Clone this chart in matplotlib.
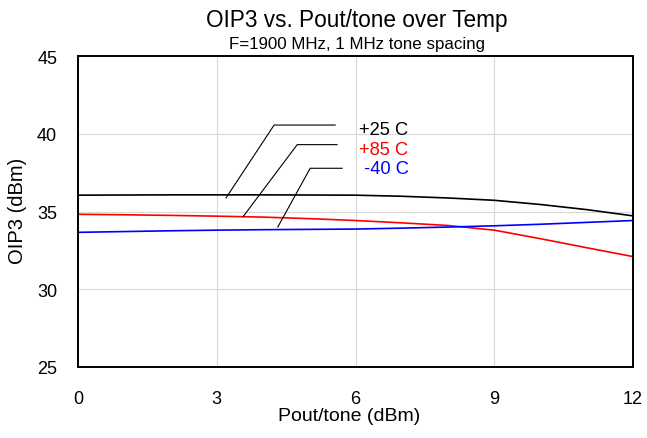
import matplotlib.pyplot as plt

plt.rcParams['font.family'] = ['Liberation Sans', 'DejaVu Sans']

pout = [0, 1, 2, 3, 4, 5, 6, 7, 8, 9, 10, 11, 12]
oip3_25c = [36.05, 36.06, 36.07, 36.07, 36.07, 36.06, 36.05, 35.98, 35.87, 35.72, 35.45, 35.12, 34.72]
oip3_85c = [34.82, 34.79, 34.75, 34.7, 34.64, 34.54, 34.42, 34.27, 34.1, 33.8, 33.25, 32.67, 32.1]
oip3_m40c = [33.66, 33.71, 33.76, 33.8, 33.83, 33.85, 33.87, 33.93, 34.0, 34.08, 34.18, 34.3, 34.42]

labels = ['+25 C', '+85 C', '-40 C']
colors = ['black', '#ff0000', '#0000ff']

xticks = [0, 3, 6, 9, 12]
yticks = [25, 30, 35, 40, 45]

fig = plt.figure(figsize=(6.47, 4.39), dpi=100)
ax = fig.add_axes([78 / 647, 1 - 368 / 439, 555 / 647, 311 / 439])

for y, c in zip([oip3_25c, oip3_85c, oip3_m40c], colors):
    ax.plot(pout, y, color=c, lw=1.2)

ax.set_xlim(0, 12)
ax.set_ylim(25, 45)
ax.set_xticks(xticks)
ax.set_yticks(yticks)
ax.tick_params(length=0, labelsize=13)
ax.tick_params(axis='x', pad=16.5)
ax.tick_params(axis='y', pad=15)
ax.grid(True, color='#d9d9d9', lw=0.8)
for s in ax.spines.values():
    s.set_linewidth(1.4)
    s.set_color('black')

# leader lines to labels
leaders = [
    ((3.20, 35.87), (4.24, 40.56), 5.56),
    ((3.57, 34.67), (4.74, 39.30), 5.60),
    ((4.32, 34.00), (5.02, 37.78), 5.71),
]
for (x0, y0), (x1, y1), x2 in leaders:
    ax.plot([x0, x1, x2], [y0, y1, y1], color='black', lw=0.8)

ax.text(6.08, 39.98, labels[0], color=colors[0], fontsize=13.2, va='baseline')
ax.text(6.08, 38.70, labels[1], color=colors[1], fontsize=13.2, va='baseline')
ax.text(6.18, 37.46, labels[2], color=colors[2], fontsize=13.2, va='baseline')

ax.set_xlabel('Pout/tone (dBm)', fontsize=14)
ax.set_ylabel('OIP3 (dBm)', fontsize=14.5)
ax.xaxis.set_label_coords(0.488, -0.171)
ax.xaxis.label.set_verticalalignment('baseline')
ax.yaxis.set_label_coords(-0.099, 0.505)
ax.yaxis.label.set_verticalalignment('baseline')

fig.text(357 / 647, 1 - 27 / 439, 'OIP3 vs. Pout/tone over Temp', ha='center', va='baseline', fontsize=16.3)
fig.text(357 / 647, 1 - 48.5 / 439, 'F=1900 MHz, 1 MHz tone spacing', ha='center', va='baseline', fontsize=12.2)

fig.savefig('out.png', dpi=100)
